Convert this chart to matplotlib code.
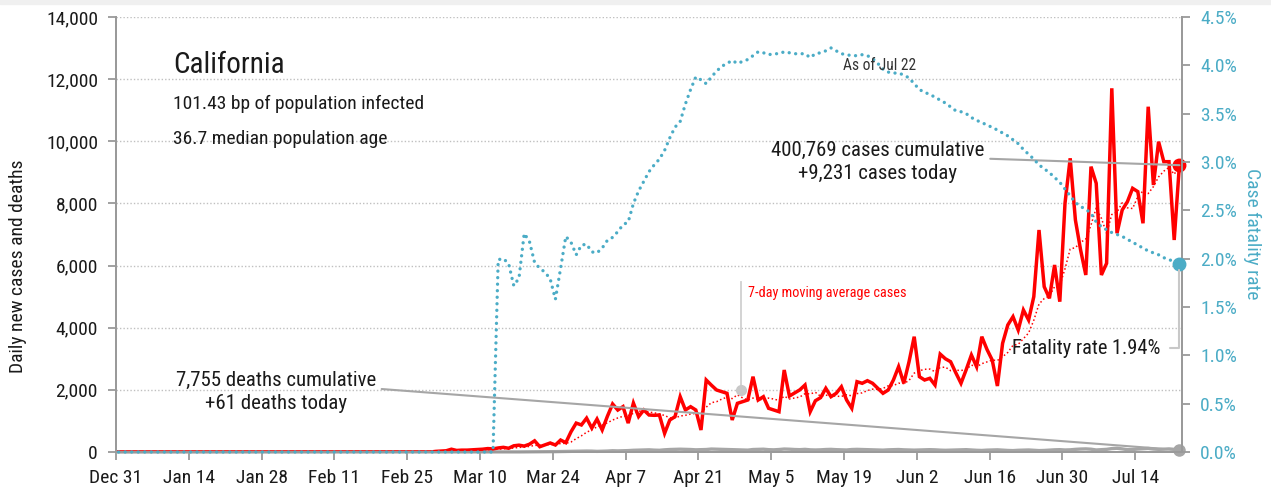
import numpy as np
import pandas as pd
import matplotlib
matplotlib.use('Agg')
import matplotlib.pyplot as plt
import matplotlib.dates as mdates
from matplotlib.patches import Rectangle
from matplotlib import font_manager as fm

_avail = {f.name for f in fm.fontManager.ttflist}
_cands = ['Roboto Condensed', 'Archivo Narrow', 'IBM Plex Sans Condensed', 'PT Sans Narrow',
          'Liberation Sans Narrow']
FAMILY = [c for c in _cands if c in _avail][:1] + ['DejaVu Sans']
plt.rcParams['font.family'] = FAMILY

# ---------------- data ----------------
start_date = '2019-12-31'
end_date = '2020-07-22'
cases_start = '2020-03-01'
rate_start = '2020-03-13'

# daily new cases, Mar 1 .. Jul 22
cases_from_mar1 = [
    20, 30, 40, 90, 50, 60, 60, 70, 80, 90, 110, 100, 130, 150, 120,
    200, 220, 190, 250, 360, 170, 230, 290, 225, 385, 300, 650, 930, 870, 1090, 770,
    1060, 710, 1150, 1545, 1350, 1460, 930, 1575, 1140, 1352, 1191, 1180, 1190, 600, 1030,
    1137, 1780, 1352, 1458, 1352, 708, 2317, 2150, 1995, 1941, 1889, 1030, 1566, 1620, 1674,
    2424, 1674, 1780, 1406, 1350, 1297, 2639, 1800, 1900, 2000, 2156, 1297, 1650, 1750, 2050,
    1780, 1889, 2100, 1674, 1406, 2263, 2211, 2295, 2211, 2050, 1889, 1995, 2317, 2746, 2211,
    2900, 3711, 2424, 2317, 2372, 2156, 3150, 3000, 2906, 2550, 2211, 2650, 3122, 2746, 3711,
    3300, 2961, 2124, 3498, 4088, 4355, 3927, 4570, 4248, 4999, 7145, 5320, 4946, 6019, 4838,
    8005, 9453, 7467, 6501, 5697, 9184, 8649, 5697, 6073, 11706, 7039, 7789, 8056, 8487, 8380,
    7361, 11113, 8593, 9987, 9344, 9344, 6823, 9231,
]

# daily new deaths, Mar 1 .. Jul 22
deaths_from_mar1 = [
    0, 0, 0, 1, 0, 0, 1, 0, 1, 1, 0, 1, 2, 1, 2,
    2, 3, 4, 5, 6, 5, 8, 10, 12, 15, 18, 20, 22, 25, 30, 28,
    20, 25, 30, 40, 35, 40, 45, 55, 60, 65, 70, 60, 55, 70, 80,
    85, 90, 85, 80, 70, 75, 80, 95, 90, 85, 80, 75, 70, 65, 60,
    80, 85, 90, 75, 70, 80, 95, 90, 80, 75, 85, 70, 65, 70, 80,
    85, 75, 70, 65, 80, 85, 80, 75, 70, 65, 60, 70, 75, 80, 70, 65,
    60, 65, 70, 75, 70, 60, 55, 60, 65, 70, 75, 65, 55, 50, 60,
    65, 70, 60, 50, 45, 55, 60, 65, 55, 45, 50, 60, 70, 75, 65,
    70, 85, 95, 100, 90, 65, 75, 85, 110, 120, 100, 75, 80, 95, 105,
    115, 95, 85, 90, 100, 85, 61,
]

# case fatality rate (%), Mar 13 .. Jul 22 (0 before)
rate_from_mar13 = [
    1.99, 2.00, 1.95, 1.72, 1.80, 2.26, 2.18, 1.96, 1.90, 1.86, 1.79, 1.58, 1.90, 2.23, 2.17,
    2.04, 2.14, 2.15, 2.07, 2.06, 2.11, 2.19, 2.22, 2.28, 2.35, 2.38, 2.57, 2.70, 2.80, 2.90,
    2.97, 3.03, 3.12, 3.25, 3.36, 3.42, 3.60, 3.75, 3.88, 3.85, 3.81, 3.88, 3.94, 3.99, 4.02,
    4.05, 4.02, 4.04, 4.06, 4.10, 4.14, 4.13, 4.11, 4.12, 4.12, 4.14, 4.13, 4.12, 4.12, 4.12,
    4.08, 4.12, 4.13, 4.15, 4.18, 4.15, 4.12, 4.11, 4.10, 4.10, 4.11, 4.10, 4.07, 4.02, 3.96,
    3.93, 3.92, 3.92, 3.90, 3.87, 3.81, 3.75, 3.72, 3.70, 3.67, 3.64, 3.61, 3.57, 3.53, 3.52,
    3.50, 3.46, 3.43, 3.41, 3.38, 3.36, 3.33, 3.30, 3.27, 3.23, 3.19, 3.13, 3.08, 3.03, 2.97,
    2.93, 2.89, 2.84, 2.79, 2.72, 2.65, 2.58, 2.54, 2.51, 2.47, 2.38, 2.33, 2.30, 2.27, 2.25,
    2.23, 2.20, 2.17, 2.14, 2.11, 2.08, 2.06, 2.04, 2.01, 1.99, 1.97, 1.94,
]

left_ticks = [0, 2000, 4000, 6000, 8000, 10000, 12000, 14000]
right_ticks = [0.0, 0.5, 1.0, 1.5, 2.0, 2.5, 3.0, 3.5, 4.0, 4.5]
x_tick_dates = pd.date_range('2019-12-31', '2020-07-14', freq='14D')

title = 'California'
sub1 = '101.43 bp of population infected'
sub2 = '36.7 median population age'
cases_note = '400,769 cases cumulative\n+9,231 cases today'
deaths_note = '7,755 deaths cumulative\n+61 deaths today'
rate_note = 'Fatality rate 1.94%'
ma_note = '7-day moving average cases'
asof_note = 'As of Jul 22'

# ---------------- series ----------------
dates = pd.date_range(start_date, end_date, freq='D')
cases = pd.Series(0.0, index=dates)
cases.loc[cases_start:] = cases_from_mar1
deaths = pd.Series(0.0, index=dates)
deaths.loc[cases_start:] = deaths_from_mar1
rate = pd.Series(0.0, index=dates)
rate.loc[rate_start:] = rate_from_mar13
ma7 = cases.rolling(7, min_periods=1).mean()

x = mdates.date2num(dates) + 0.5  # values plotted at mid-day

RED = '#ff0000'
BLUE = '#4bacc6'
GRAY = '#a6a6a6'
SPINE = '#9a9a9a'
TXT = '#1a1a1a'

fig = plt.figure(figsize=(12.71, 4.91), dpi=100)
fig.patches.append(Rectangle((0, 1 - 4 / 491), 1, 4 / 491, transform=fig.transFigure,
                             color='#f0f0f0', zorder=0))
ax1 = fig.add_axes([116 / 1271, 1 - 452 / 491, 1066 / 1271, 435 / 491])
ax2 = ax1.twinx()

# left axis series
ax1.plot(x, deaths.values, color=GRAY, lw=2.4, zorder=3, clip_on=False, solid_joinstyle='round')
ax1.plot(x, cases.values, color=RED, lw=2.5, zorder=4, solid_joinstyle='miter')
ax1.plot(x, ma7.values, color=RED, lw=1.1, ls=(0, (1, 1.6)), zorder=5, clip_on=False)
ax1.plot([x[-1]], [cases.values[-1]], 'o', color=RED, ms=9, zorder=6, clip_on=False)
ax1.plot([x[-1]], [deaths.values[-1]], 'o', color=GRAY, ms=8, zorder=6, clip_on=False)

# right axis series
ax2.plot(x, rate.values, color=BLUE, lw=2.4, ls=(0, (0.01, 1.95)), dash_capstyle='round',
         zorder=3, clip_on=False)
ax2.plot([x[-1]], [rate.values[-1]], 'o', color=BLUE, ms=9, zorder=6, clip_on=False)

xmin = mdates.date2num(pd.Timestamp(start_date))
xmax = mdates.date2num(pd.Timestamp(end_date)) + 1
ax1.set_xlim(xmin, xmax)
ax1.set_ylim(0, 14000)
ax2.set_ylim(0, 4.5)

ax1.set_xticks(mdates.date2num(x_tick_dates))
ax1.set_xticklabels([f'{d:%b} {d.day}' for d in x_tick_dates])
ax1.set_yticks(left_ticks)
ax1.set_yticklabels([f'{v:,}' for v in left_ticks])
ax2.set_yticks(right_ticks)
ax2.set_yticklabels([f'{v:.1f}%' for v in right_ticks])

ax1.grid(axis='y', color='#c0c0c0', ls=(0, (1, 1.5)), lw=1.0)
ax1.set_axisbelow(True)

for ax in (ax1, ax2):
    ax.spines['top'].set_visible(False)
    for s in ('left', 'right', 'bottom'):
        ax.spines[s].set_color(SPINE)
        ax.spines[s].set_linewidth(1.4)
ax1.tick_params(axis='both', length=6, width=1.3, color=SPINE, labelsize=14, labelcolor=TXT)
ax1.tick_params(axis='y', pad=7)
ax1.tick_params(axis='x', pad=6)
ax2.tick_params(axis='y', length=6, width=1.3, color=SPINE, labelsize=14, labelcolor=BLUE, pad=7)

fig.text(18 / 1271, 1 - 266 / 491, 'Daily new cases and deaths', rotation=90, ha='center',
         va='center', fontsize=14, color=TXT)
fig.text(1252 / 1271, 1 - 234 / 491, 'Case fatality rate', rotation=270, ha='center',
         va='center', fontsize=14, color=BLUE)

# header texts
fig.text(173 / 1271, 1 - 73 / 491, title, fontsize=21, color=TXT, va='baseline')
fig.text(173 / 1271, 1 - 109 / 491, sub1, fontsize=14, color=TXT, va='baseline')
fig.text(173 / 1271, 1 - 144 / 491, sub2, fontsize=14, color=TXT, va='baseline')

# annotations
line_kw = dict(arrowstyle='-', color=GRAY, lw=1.5, shrinkA=2, shrinkB=0)
ax1.annotate(cases_note, xy=(x[-1], cases.values[-1]), xycoords='data',
             xytext=(878 / 1271, 1 - 162 / 491), textcoords='figure fraction',
             ha='center', va='center', fontsize=15, color=TXT, linespacing=1.3,
             arrowprops=dict(relpos=(1.0, 0.58), **line_kw), zorder=7)
ax1.annotate(deaths_note, xy=(x[-1], deaths.values[-1]), xycoords='data',
             xytext=(276 / 1271, 1 - 392 / 491), textcoords='figure fraction',
             ha='center', va='center', fontsize=15, color=TXT, linespacing=1.3,
             arrowprops=dict(relpos=(1.0, 0.58), **line_kw), zorder=7)
ax2.annotate(rate_note, xy=(x[-1], rate.values[-1]), xycoords='data',
             xytext=(1086 / 1271, 1 - 348 / 491), textcoords='figure fraction',
             ha='center', va='center', fontsize=14.7, color=TXT,
             arrowprops=dict(arrowstyle='-', color='#c8c8c8', lw=1.5, shrinkA=5, shrinkB=4,
                             connectionstyle='angle,angleA=0,angleB=90,rad=0'), zorder=7)

# 7-day moving average pointer
ma_x = mdates.date2num(pd.Timestamp('2020-04-29 05:00'))
ma_dot_y = 2000
ma_line_top = 5470
ax1.plot([ma_x, ma_x], [ma_dot_y, ma_line_top], color='#d0d0d0', lw=1.3, zorder=5)
ax1.plot([ma_x], [ma_dot_y], 'o', color='#c8c8c8', ms=7, zorder=6)
fig.text(748 / 1271, 1 - 293 / 491, ma_note, fontsize=10.3, color=RED, ha='left', va='center')

fig.text(880 / 1271, 1 - 65 / 491, asof_note, fontsize=11.2, color='#333333',
         ha='center', va='center')

fig.savefig('out.png', dpi=100)
